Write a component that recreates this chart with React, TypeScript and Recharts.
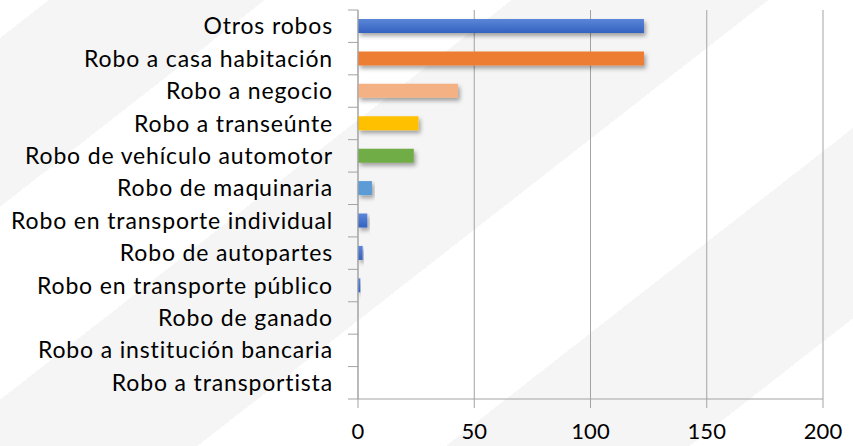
import { BarChart, Bar, XAxis, YAxis, CartesianGrid, Cell } from "recharts";

const categories = [
    "Otros robos",
    "Robo a casa habitación",
    "Robo a negocio",
    "Robo a transeúnte",
    "Robo de vehículo automotor",
    "Robo de maquinaria",
    "Robo en transporte individual",
    "Robo de autopartes",
    "Robo en transporte público",
    "Robo de ganado",
    "Robo a institución bancaria",
    "Robo a transportista",
];

const values = [123, 123, 43, 26, 24, 6, 4, 2, 1, 0, 0, 0];

const xTicks = [0, 50, 100, 150, 200];

const barColors = [
    "url(#blueGrad)",
    "#ED7D31",
    "#F4B183",
    "#FFC000",
    "#70AD47",
    "#5B9BD5",
    "url(#blueGrad)",
    "url(#blueGrad)",
    "url(#blueGrad)",
    "url(#blueGrad)",
    "url(#blueGrad)",
    "url(#blueGrad)",
];

const data = categories.map((name, i) => ({ name, value: values[i] }));

const W = 853;
const H = 446;
const TOP = 10;
const BOTTOM = 47;
const BAND = (H - TOP - BOTTOM) / categories.length;
const AXIS = "#a3a3a3";
const FONT = "Lato, 'Open Sans', sans-serif";

// category label + Excel style boundary tick marks
function CategoryTick(props: any) {
    const { x, y, payload, index } = props;
    const last = index === categories.length - 1;
    return (
        <g>
            <text
                x={x}
                y={y}
                dy="0.35em"
                textAnchor="end"
                fontSize={23}
                letterSpacing={0.85}
                fill="#000"
                fontFamily={FONT}
            >
                {payload.value}
            </text>
            <line x1={x + 15} x2={x + 25} y1={y - BAND / 2} y2={y - BAND / 2} stroke={AXIS} />
            {last && <line x1={x + 15} x2={x + 25} y1={y + BAND / 2} y2={y + BAND / 2} stroke={AXIS} />}
        </g>
    );
}

export default function App() {
    const bg =
        "linear-gradient(142deg, #fff 0px, #fff 30px, #f5f5f5 30px, #f5f5f5 163px, #fff 163px, #fff 315px, #f5f5f5 315px, #f5f5f5 473px, #fff 473px, #fff 626px, #f5f5f5 626px, #f5f5f5 776px, #fff 776px)";
    return (
        <div style={{ position: "absolute", left: 0, top: 0, width: W, height: H, background: bg }}>
            <BarChart
                width={W}
                height={H}
                data={data}
                layout="vertical"
                margin={{ top: TOP, right: 30, left: 0, bottom: 0 }}
                barCategoryGap={0}
            >
                <defs>
                    <linearGradient id="blueGrad" x1="0" y1="0" x2="0" y2="1">
                        <stop offset="0%" stopColor="#5B86D8" />
                        <stop offset="100%" stopColor="#3362C0" />
                    </linearGradient>
                    <filter id="shadow" x="-10%" y="-40%" width="130%" height="200%">
                        <feDropShadow dx="2" dy="3" stdDeviation="2" floodColor="#000" floodOpacity="0.35" />
                    </filter>
                </defs>
                <CartesianGrid horizontal={false} stroke={AXIS} />
                <XAxis
                    type="number"
                    domain={[0, 200]}
                    ticks={xTicks}
                    height={BOTTOM}
                    stroke={AXIS}
                    tickSize={9}
                    tickMargin={15}
                    tick={{ fontSize: 22, fill: "#000", fontFamily: FONT }}
                />
                <YAxis
                    type="category"
                    dataKey="name"
                    width={358}
                    stroke={AXIS}
                    tickLine={false}
                    tickSize={10}
                    tickMargin={15}
                    interval={0}
                    tick={<CategoryTick />}
                />
                <Bar dataKey="value" barSize={14} isAnimationActive={false} filter="url(#shadow)">
                    {data.map((d, i) => (
                        <Cell key={d.name} fill={barColors[i]} />
                    ))}
                </Bar>
            </BarChart>
        </div>
    );
}
